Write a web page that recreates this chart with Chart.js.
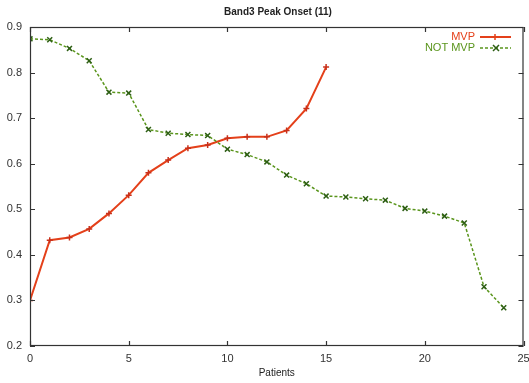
<!DOCTYPE html>
<html>
<head>
<meta charset="utf-8">
<script src="https://cdn.jsdelivr.net/npm/chart.js@4"></script>
<style>
	html, body { margin: 0; padding: 0; background: #fff; }
	#wrap { width: 529px; height: 383px; }
</style>
</head>
<body>
<div id="wrap"><canvas id="onset-chart" width="529" height="383"></canvas></div>
<script>
const chartTitle = "Band3 Peak Onset (11)";
const xLabel = "Patients";
const mvpLabel = "MVP";
const notMvpLabel = "NOT MVP";

const mvpX = [0, 1, 2, 3, 4, 5, 6, 7, 8, 9, 10, 11, 12, 13, 14, 15];
const mvpValues = [0.300, 0.432, 0.438, 0.457, 0.491, 0.531, 0.580, 0.608, 0.634, 0.641, 0.656, 0.659, 0.659, 0.673, 0.721, 0.812];

const notMvpX = [0, 1, 2, 3, 4, 5, 6, 7, 8, 9, 10, 11, 12, 13, 14, 15, 16, 17, 18, 19, 20, 21, 22, 23, 24];
const notMvpValues = [0.874, 0.872, 0.853, 0.826, 0.757, 0.755, 0.675, 0.667, 0.664, 0.662, 0.632, 0.620, 0.604, 0.575, 0.556, 0.529, 0.527, 0.523, 0.520, 0.502, 0.496, 0.485, 0.470, 0.330, 0.284];

const xTicks = [0, 5, 10, 15, 20, 25];
const yTicks = [0.2, 0.3, 0.4, 0.5, 0.6, 0.7, 0.8, 0.9];

const mvpColor = "#e4401a";
const notMvpColor = "#5a951c";
const axisColor = "#333333";
const fontFamily = "'Liberation Sans', Arial, sans-serif";

function toPoints(xs, ys) {
	return xs.map((x, i) => ({ x: x, y: ys[i] }));
}

// frame, inward ticks, title and the gnuplot-style legend
const framePlugin = {
	id: "frame",
	afterDraw(chart) {
		const ctx = chart.ctx;
		const area = chart.chartArea;
		const xs = chart.scales.x;
		const ys = chart.scales.y;
		ctx.save();
		ctx.strokeStyle = axisColor;
		ctx.lineWidth = 1.2;
		ctx.strokeRect(area.left + 0.5, area.top + 0.5, area.right - area.left - 1, area.bottom - area.top - 1);
		ctx.beginPath();
		xTicks.forEach((t) => {
			const px = Math.round(xs.getPixelForValue(t)) + 0.5;
			ctx.moveTo(px, area.bottom);
			ctx.lineTo(px, area.bottom - 5);
			ctx.moveTo(px, area.top);
			ctx.lineTo(px, area.top + 5);
		});
		yTicks.forEach((t) => {
			const py = Math.round(ys.getPixelForValue(t)) + 0.5;
			ctx.moveTo(area.left, py);
			ctx.lineTo(area.left + 5, py);
			ctx.moveTo(area.right, py);
			ctx.lineTo(area.right - 5, py);
		});
		ctx.stroke();

		ctx.fillStyle = "#222";
		ctx.font = "bold 10px " + fontFamily;
		ctx.textAlign = "center";
		ctx.textBaseline = "middle";
		ctx.fillText(chartTitle, 278, 12);

		ctx.font = "11px " + fontFamily;
		ctx.textAlign = "right";
		const rows = [
			{ label: mvpLabel, color: mvpColor, dash: [], y: 37, style: "cross" },
			{ label: notMvpLabel, color: notMvpColor, dash: [3, 2], y: 48, style: "crossRot" },
		];
		rows.forEach((row) => {
			ctx.fillStyle = row.color;
			ctx.fillText(row.label, 475, row.y);
			ctx.strokeStyle = row.color;
			ctx.lineWidth = row.dash.length ? 1.5 : 2;
			ctx.setLineDash(row.dash);
			ctx.beginPath();
			ctx.moveTo(480, row.y);
			ctx.lineTo(511, row.y);
			ctx.stroke();
			ctx.setLineDash([]);
			ctx.lineWidth = 1.5;
			ctx.strokeStyle = row.style === "cross" ? mvpColor : "#2d5e14";
			ctx.beginPath();
			if (row.style === "cross") {
				ctx.moveTo(495, row.y - 3);
				ctx.lineTo(495, row.y + 3);
				ctx.moveTo(492, row.y);
				ctx.lineTo(498, row.y);
			} else {
				ctx.moveTo(493, row.y - 3);
				ctx.lineTo(499, row.y + 3);
				ctx.moveTo(499, row.y - 3);
				ctx.lineTo(493, row.y + 3);
			}
			ctx.stroke();
		});
		ctx.restore();
	},
};

new Chart(document.getElementById("onset-chart"), {
	type: "line",
	data: {
		datasets: [
			{
				label: notMvpLabel,
				data: toPoints(notMvpX, notMvpValues),
				borderColor: notMvpColor,
				borderWidth: 1.5,
				borderDash: [3, 2],
				pointStyle: "crossRot",
				pointRadius: 3.5,
				pointBorderColor: "#2d5e14",
				pointBorderWidth: 1.5,
				tension: 0,
				fill: false,
			},
			{
				label: mvpLabel,
				data: toPoints(mvpX, mvpValues),
				borderColor: mvpColor,
				borderWidth: 2,
				pointStyle: "cross",
				pointRadius: 3,
				pointBorderColor: "#c8301a",
				pointBorderWidth: 1.5,
				tension: 0,
				fill: false,
			},
		],
	},
	options: {
		responsive: false,
		animation: false,
		layout: { padding: { top: 27, right: 4, left: 0, bottom: 0 } },
		plugins: {
			legend: { display: false },
			title: { display: false },
			tooltip: { enabled: false },
		},
		scales: {
			x: {
				type: "linear",
				min: 0,
				max: 25,
				afterFit: (scale) => { scale.height = 37; },
				afterBuildTicks: (scale) => { scale.ticks = xTicks.map((v) => ({ value: v })); },
				grid: { display: false },
				border: { display: false },
				ticks: {
					color: axisColor,
					padding: -2,
					font: { size: 11, family: fontFamily },
				},
				title: {
					display: true,
					text: xLabel,
					color: "#222",
					padding: { top: 2, bottom: 4 },
					font: { size: 10, family: fontFamily },
				},
			},
			y: {
				min: 0.2,
				max: 0.9,
				afterFit: (scale) => { scale.width = 30; },
				afterBuildTicks: (scale) => { scale.ticks = yTicks.map((v) => ({ value: v })); },
				grid: { display: false },
				border: { display: false },
				ticks: {
					color: axisColor,
					padding: 0,
					font: { size: 11, family: fontFamily },
					callback: (v) => v.toFixed(1),
				},
			},
		},
	},
	plugins: [framePlugin],
});
</script>
</body>
</html>
